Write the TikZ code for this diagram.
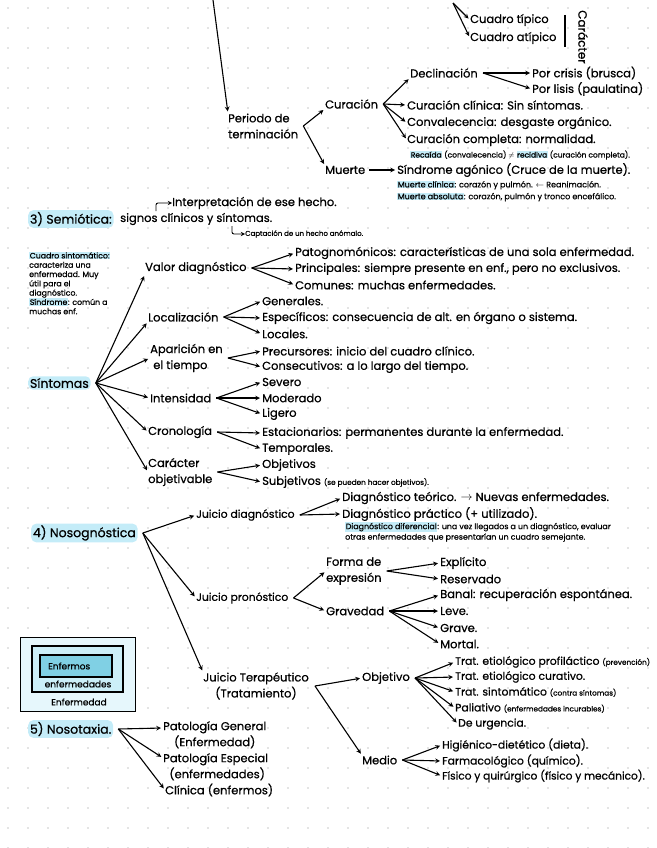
\documentclass[tikz,border=0pt]{standalone}
\usepackage{fontspec}
\setmainfont{Poppins}[FakeBold=0.7]
\usetikzlibrary{arrows,positioning}
\definecolor{hlblue}{RGB}{196,236,248}
\definecolor{boxout}{RGB}{230,247,252}
\definecolor{boxmid}{RGB}{204,239,248}
\definecolor{boxin}{RGB}{128,208,228}
\definecolor{griddot}{RGB}{200,200,200}
\newcommand{\hlite}[1]{{\setlength{\fboxsep}{0.6pt}\colorbox{hlblue}{#1}}}
\newcommand{\aside}[1]{{\fontsize{7.3}{8}\selectfont #1}}

\begin{document}
\begin{tikzpicture}[x=1pt, y=-1pt, >=stealth,
                    txt/.style = {
                      anchor=west, inner sep=0pt, align=left,
                      font=\fontsize{11.5}{16}\selectfont
                    },
                    small/.style = {
                      anchor=west, inner sep=0pt, align=left,
                      font=\fontsize{8}{12}\selectfont
                    },
                    topic/.style = {
                      anchor=west, inner sep=1.8pt, rounded corners=5pt,
                      fill=hlblue, font=\fontsize{12.5}{16}\selectfont
                    },
                    arr/.style = {->, line width=1.1pt, shorten >=2pt}]
    \useasboundingbox (0,0) rectangle (656,848);
    \foreach \i in {0,...,32}
      \foreach \j in {0,...,42}
        \fill[griddot] (8+20*\i, 8+20*\j) circle (0.8pt);

    % top part
    \coordinate (topin) at (213,0);
    \coordinate (carin) at (453,3);
    \node[txt] (ctip) at (470,20) {Cuadro típico};
    \node[txt] (catip) at (470,38) {Cuadro atípico};
    \draw[line width=1.1pt] (565,15) -- (565,47);
    \node[txt, font=\fontsize{12}{16}\selectfont, rotate=-90, anchor=center] (caract) at (583,37) {Carácter};
    \node[txt] (periodo) at (228,126) {Periodo de\\terminación};
    \node[txt] (curac) at (325,104) {Curación};
    \node[txt] (declin) at (410,73) {Declinación};
    \node[txt] (crisis) at (532,73) {Por crisis (brusca)};
    \node[txt] (lisis) at (532,89) {Por lisis (paulatina)};
    \node[txt] (cclin) at (407,105) {Curación clínica: Sin síntomas.};
    \node[txt] (conval) at (407,123) {Convalecencia: desgaste orgánico.};
    \node[txt] (ccomp) at (407,140) {Curación completa: normalidad.};
    \node[small, font=\fontsize{7.5}{10}\selectfont] (recaida) at (410,155) {\hlite{Recaída} (convalecencia) $\neq$ \hlite{recidiva} (curación completa).};
    \node[txt] (muerte) at (325,170) {Muerte};
    \node[txt] (sagon) at (397,170) {Síndrome agónico (Cruce de la muerte).};
    \node[small] (mclin) at (397,185) {\hlite{Muerte clínica}: corazón y pulmón. $\leftarrow$ Reanimación.};
    \node[small] (mabs) at (397,197) {\hlite{Muerte absoluta}: corazón, pulmón y tronco encefálico.};

    \path[arr] (topin) edge (periodo.north west);
    \path[arr] (carin) edge (ctip.west) (carin) edge (catip.west);
    \path[arr] ([xshift=5pt]periodo.east) edge (curac.south west)
               ([xshift=5pt]periodo.east) edge (muerte.north west);
    \path[arr] ([xshift=5pt]curac.east) edge (declin.south west)
               ([xshift=5pt]curac.east) edge (cclin.west)
               ([xshift=5pt]curac.east) edge (conval.west)
               ([xshift=5pt]curac.east) edge (ccomp.west);
    \path[arr] ([xshift=5pt]declin.east) edge (crisis.west)
               ([xshift=5pt]declin.east) edge (lisis.west);
    \path[arr] ([xshift=4pt]muerte.east) edge (sagon.west);

    % 3) semiotica
    \node[topic] (semio) at (28,219) {3) Semiótica:};
    \node[txt] (signos) at (120,219) {signos clínicos y síntomas.};
    \node[txt] (interp) at (172,203) {Interpretación de ese hecho.};
    \node[small, font=\fontsize{7}{9}\selectfont] (capt) at (245,234) {Captación de un hecho anómalo.};
    \coordinate (hooka) at (156,211);
    \coordinate (hookb) at (232,226);
    \draw[->, line width=0.9pt, rounded corners=2pt] (hooka) |- (interp.west);
    \draw[->, line width=0.9pt, rounded corners=2pt] (hookb) |- (capt.west);

    \node[small, font=\fontsize{7.8}{9.3}\selectfont] (cuadro) at (29,283) {\hlite{Cuadro sintomático:}\\caracteriza una\\enfermedad. Muy\\útil para el\\diagnóstico.\\\hlite{Síndrome}: común a\\muchas enf.};

    \node[topic] (sint) at (28,383) {Síntomas};
    \node[txt] (valor) at (145,268) {Valor diagnóstico};
    \node[txt] (pato) at (295,253) {Patognomónicos: características de una sola enfermedad.};
    \node[txt] (princ) at (295,269) {Principales: siempre presente en enf., pero no exclusivos.};
    \node[txt] (comun) at (295,285) {Comunes: muchas enfermedades.};
    \node[txt] (local) at (148,317) {Localización};
    \node[txt] (gen) at (262,301) {Generales.};
    \node[txt] (espec) at (262,318) {Específicos: consecuencia de alt. en órgano o sistema.};
    \node[txt] (locs) at (262,334) {Locales.};
    \node[txt] (apar) at (150,358) {Aparición en\\\ el tiempo};
    \node[txt] (prec) at (262,351) {Precursores: inicio del cuadro clínico.};
    \node[txt] (consec) at (262,367) {Consecutivos: a lo largo del tiempo.};
    \node[txt] (inten) at (150,398) {Intensidad};
    \node[txt] (sev) at (262,382) {Severo};
    \node[txt] (mod) at (262,398) {Moderado};
    \node[txt] (lig) at (262,414) {Ligero};
    \node[txt] (crono) at (148,432) {Cronología};
    \node[txt] (estac) at (262,433) {Estacionarios: permanentes durante la enfermedad.};
    \node[txt] (temp) at (262,449) {Temporales.};
    \node[txt] (carac) at (148,472) {Carácter\\objetivable};
    \node[txt] (objs) at (262,465) {Objetivos};
    \node[txt] (subj) at (262,482) {Subjetivos \aside{(se pueden hacer objetivos).}};

    \path[arr] ([xshift=5pt]sint.east) edge (valor.south west)
               ([xshift=5pt]sint.east) edge (local.south west)
               ([xshift=5pt]sint.east) edge (apar.west)
               ([xshift=5pt]sint.east) edge (inten.west)
               ([xshift=5pt]sint.east) edge (crono.west)
               ([xshift=5pt]sint.east) edge (carac.west);
    \path[arr] ([xshift=5pt]valor.east) edge (pato.west)
               ([xshift=5pt]valor.east) edge (princ.west)
               ([xshift=5pt]valor.east) edge (comun.west);
    \path[arr] ([xshift=5pt]local.east) edge (gen.west)
               ([xshift=5pt]local.east) edge (espec.west)
               ([xshift=5pt]local.east) edge (locs.west);
    \path[arr] ([xshift=5pt]apar.east) edge (prec.west)
               ([xshift=5pt]apar.east) edge (consec.west);
    \path[arr] ([xshift=5pt]inten.east) edge (sev.west)
               ([xshift=5pt]inten.east) edge (mod.west)
               ([xshift=5pt]inten.east) edge (lig.west);
    \path[arr] ([xshift=5pt]crono.east) edge (estac.west)
               ([xshift=5pt]crono.east) edge (temp.west);
    \path[arr] ([xshift=5pt]carac.east) edge (objs.west)
               ([xshift=5pt]carac.east) edge (subj.west);

    % 4) nosognostica
    \node[topic] (noso) at (31,533) {4) Nosognóstica};
    \node[txt, font=\fontsize{10.8}{15}\selectfont] (jdiag) at (196,515) {Juicio diagnóstico};
    \node[txt] (dteor) at (342,498) {Diagnóstico teórico. $\rightarrow$ Nuevas enfermedades.};
    \node[txt] (dprac) at (342,514) {Diagnóstico práctico (+ utilizado).};
    \node[small, font=\fontsize{7.9}{10.5}\selectfont] (dnote) at (345,532) {\hlite{Diagnóstico diferencial}: una vez llegados a un diagnóstico, evaluar\\otras enfermedades que presentarían un cuadro semejante.};
    \node[txt, font=\fontsize{10.8}{15}\selectfont] (jpron) at (196,598) {Juicio pronóstico};
    \node[txt] (forma) at (326,571) {Forma de\\expresión};
    \node[txt] (grav) at (326,611) {Gravedad};
    \node[txt] (expl) at (440,563) {Explícito};
    \node[txt] (reserv) at (440,579) {Reservado};
    \node[txt] (banal) at (440,595) {Banal: recuperación espontánea.};
    \node[txt] (leve) at (440,611) {Leve.};
    \node[txt] (grave) at (440,628) {Grave.};
    \node[txt] (mortal) at (440,644) {Mortal.};
    \node[txt, align=center, anchor=center] (jter) at (256,686) {Juicio Terapéutico\\(Tratamiento)};
    \node[txt] (objv) at (362,678) {Objetivo};
    \node[txt] (medio) at (362,760) {Medio};
    \node[txt, font=\fontsize{10.8}{15}\selectfont] (trat1) at (455,662) {Trat. etiológico profiláctico \aside{(prevención)}};
    \node[txt, font=\fontsize{10.8}{15}\selectfont] (trat2) at (455,677) {Trat. etiológico curativo.};
    \node[txt, font=\fontsize{10.8}{15}\selectfont] (trat3) at (455,692) {Trat. sintomático \aside{(contra síntomas)}};
    \node[txt, font=\fontsize{10.8}{15}\selectfont] (trat4) at (455,708) {Paliativo \aside{(enfermedades incurables)}};
    \node[txt, font=\fontsize{10.8}{15}\selectfont] (trat5) at (458,724) {De urgencia.};
    \node[txt, font=\fontsize{10.8}{15}\selectfont] (med1) at (442,745) {Higiénico-dietético (dieta).};
    \node[txt, font=\fontsize{10.8}{15}\selectfont] (med2) at (442,761) {Farmacológico (químico).};
    \node[txt, font=\fontsize{10.6}{15}\selectfont] (med3) at (442,776) {Físico y quirúrgico (físico y mecánico).};

    \path[arr] ([xshift=5pt]noso.east) edge (jdiag.west)
               ([xshift=5pt]noso.east) edge (jpron.west)
               ([xshift=5pt]noso.east) edge (jter.north west);
    \path[arr] ([xshift=5pt]jdiag.east) edge (dteor.west)
               ([xshift=5pt]jdiag.east) edge (dprac.west);
    \path[arr] ([xshift=5pt]jpron.east) edge (forma.west)
               ([xshift=5pt]jpron.east) edge (grav.west);
    \path[arr] ([xshift=5pt]forma.east) edge (expl.west)
               ([xshift=5pt]forma.east) edge (reserv.west);
    \path[arr] ([xshift=5pt]grav.east) edge (banal.west)
               ([xshift=5pt]grav.east) edge (leve.west)
               ([xshift=5pt]grav.east) edge (grave.west)
               ([xshift=5pt]grav.east) edge (mortal.west);
    \path[arr] ([xshift=6pt]jter.east) edge (objv.west)
               ([xshift=6pt]jter.east) edge (medio.north west);
    \path[arr] ([xshift=5pt]objv.east) edge (trat1.west)
               ([xshift=5pt]objv.east) edge (trat2.west)
               ([xshift=5pt]objv.east) edge (trat3.west)
               ([xshift=5pt]objv.east) edge (trat4.west)
               ([xshift=5pt]objv.east) edge (trat5.west);
    \path[arr] ([xshift=5pt]medio.east) edge (med1.west)
               ([xshift=5pt]medio.east) edge (med2.west)
               ([xshift=5pt]medio.east) edge (med3.west);

    % nested boxes
    \draw[line width=1pt, fill=boxout] (20,637) rectangle (135,711);
    \draw[line width=1.3pt, fill=boxmid] (32,646) rectangle (123,692);
    \draw[line width=1.3pt, fill=boxin] (40,655) rectangle (112,677);
    \node[small, font=\fontsize{9}{10}\selectfont] (enfermos) at (48,666) {Enfermos};
    \node[small, font=\fontsize{9}{10}\selectfont, anchor=center] (enfdades) at (78,684) {enfermedades};
    \node[small, font=\fontsize{9}{10}\selectfont, anchor=center] (enfdad) at (79,702) {Enfermedad};

    % 5) nosotaxia
    \node[topic] (taxia) at (28,729) {5) Nosotaxia.};
    \node[txt, align=center, anchor=north west] (pgen) at (163,721) {Patología General\\(Enfermedad)};
    \node[txt, align=center, anchor=north west] (pesp) at (163,753) {Patología Especial\\\ (enfermedades)};
    \node[txt] (clin) at (165,790) {Clínica (enfermos)};
    \path[arr] ([xshift=5pt]taxia.east) edge ([yshift=-7pt]pgen.north west)
               ([xshift=5pt]taxia.east) edge ([yshift=-5pt]pesp.north west)
               ([xshift=5pt]taxia.east) edge (clin.west);
\end{tikzpicture}
\end{document}
